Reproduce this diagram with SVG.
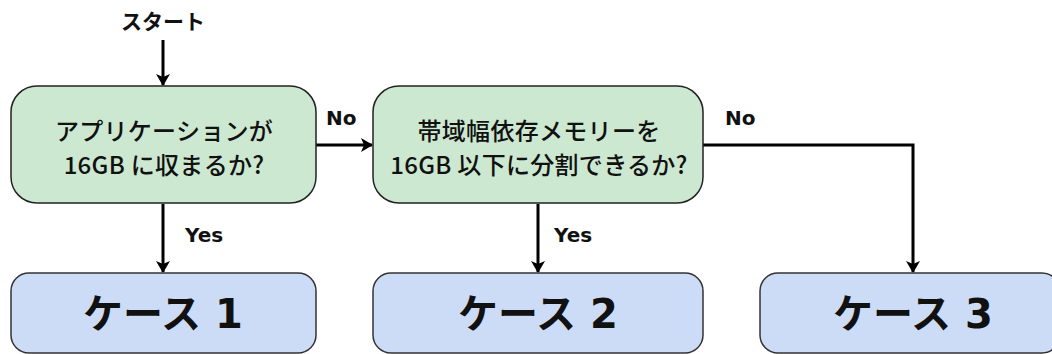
<svg xmlns="http://www.w3.org/2000/svg" width="1052" height="354" viewBox="0 0 1052 354">
<style>
.dec{fill:#cde8d0;stroke:#222;stroke-width:1.5}
.case{fill:#cddcf6;stroke:#333;stroke-width:1.5}
.t{font-family:"DejaVu Sans","Noto Sans CJK JP",sans-serif;fill:#111}
.q{font-family:"Noto Sans CJK JP","Noto Sans",sans-serif;font-size:24px;font-weight:500;text-anchor:middle;letter-spacing:0.3px}
.c{font-size:40px;font-weight:700;text-anchor:middle}
.l{font-size:20px;font-weight:700}
.s{font-size:21px}
.e{fill:none;stroke:#000;stroke-width:3}
</style>
<defs>
<marker id="ah" viewBox="0 0 12 14" refX="11" refY="7" markerWidth="12" markerHeight="14" markerUnits="userSpaceOnUse" orient="auto">
<path d="M0,0 L12,7 L0,14 L3,7 Z" fill="#000"/>
</marker>
</defs>
<g id="connectors">
<path class="e" d="M163,40 V85" marker-end="url(#ah)"/>
<path class="e" d="M163,204 V272" marker-end="url(#ah)"/>
<path class="e" d="M316,145 H372" marker-end="url(#ah)"/>
<path class="e" d="M538,204 V272" marker-end="url(#ah)"/>
<path class="e" d="M703,145 H913 V272" marker-end="url(#ah)"/>
<text class="t l s" x="163" y="29" text-anchor="middle">スタート</text>
<text class="t l" x="185" y="242">Yes</text>
<text class="t l" x="554" y="242">Yes</text>
<text class="t l" x="326" y="125">No</text>
<text class="t l" x="725" y="125">No</text>
</g>
<g id="q1">
<rect class="dec" x="11" y="86" width="305" height="117" rx="26"/>
<text class="t q" x="164" y="140">アプリケーションが</text>
<text class="t q" x="164" y="174">16GB に収まるか?</text>
</g>
<g id="q2">
<rect class="dec" x="373" y="86" width="330" height="117" rx="26"/>
<text class="t q" x="539" y="140">帯域幅依存メモリーを</text>
<text class="t q" x="539" y="174">16GB 以下に分割できるか?</text>
</g>
<g id="case1">
<rect class="case" x="11" y="273" width="305" height="80" rx="18"/>
<text class="t c" x="163" y="328">ケース 1</text>
</g>
<g id="case2">
<rect class="case" x="373" y="273" width="330" height="80" rx="18"/>
<text class="t c" x="538" y="328">ケース 2</text>
</g>
<g id="case3">
<rect class="case" x="760" y="273" width="300" height="80" rx="18"/>
<text class="t c" x="913" y="328">ケース 3</text>
</g>
</svg>
